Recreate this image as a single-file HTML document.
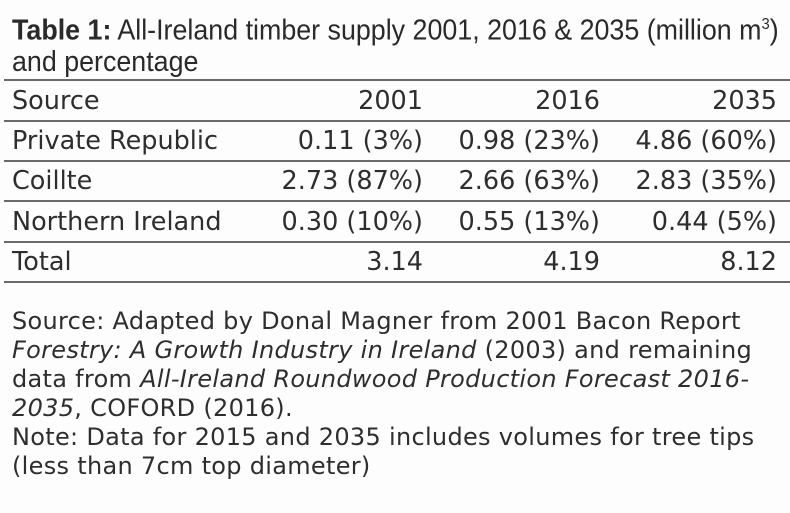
<!DOCTYPE html>
<html><head><meta charset="utf-8"><style>
body{margin:0;background:#fdfdfd;width:790px;height:513px;overflow:hidden;position:relative;font-family:"DejaVu Sans","Liberation Sans",sans-serif;color:#2e2e2e}
.t{position:absolute;white-space:nowrap}
.title{left:12px;top:9px;font-family:"Liberation Sans Narrow","Liberation Sans",sans-serif;font-size:29px;line-height:31px;color:#2a2a2a;transform-origin:0 0;transform:scaleX(0.925)}
.ln{position:absolute;left:4px;right:0;height:2px;background:#6a6a6a}
.c{position:absolute;font-size:25.5px;line-height:40px;white-space:nowrap}
.r{text-align:right}
.f{position:absolute;left:12px;font-size:24px;letter-spacing:0.3px;line-height:29px;white-space:nowrap}
</style></head><body>
<div class="t title"><b>Table 1:</b> All-Ireland timber supply 2001, 2016 &amp; 2035 (million m<sup style="font-size:16px">3</sup>)<br>and percentage</div>
<div class="ln" style="top:79px"></div>
<div class="ln" style="top:120px"></div>
<div class="ln" style="top:160px"></div>
<div class="ln" style="top:200px"></div>
<div class="ln" style="top:241px"></div>
<div class="ln" style="top:281px"></div>

<div class="c" style="left:12px;top:81px">Source</div>
<div class="c r" style="right:367px;top:81px">2001</div>
<div class="c r" style="right:190px;top:81px">2016</div>
<div class="c r" style="right:13px;top:81px">2035</div>

<div class="c" style="left:12px;top:121px">Private Republic</div>
<div class="c r" style="right:367px;top:121px">0.11 (3%)</div>
<div class="c r" style="right:190px;top:121px">0.98 (23%)</div>
<div class="c r" style="right:13px;top:121px">4.86 (60%)</div>

<div class="c" style="left:12px;top:161px">Coillte</div>
<div class="c r" style="right:367px;top:161px">2.73 (87%)</div>
<div class="c r" style="right:190px;top:161px">2.66 (63%)</div>
<div class="c r" style="right:13px;top:161px">2.83 (35%)</div>

<div class="c" style="left:12px;top:202px">Northern Ireland</div>
<div class="c r" style="right:367px;top:202px">0.30 (10%)</div>
<div class="c r" style="right:190px;top:202px">0.55 (13%)</div>
<div class="c r" style="right:13px;top:202px">0.44 (5%)</div>

<div class="c" style="left:12px;top:242px">Total</div>
<div class="c r" style="right:367px;top:242px">3.14</div>
<div class="c r" style="right:190px;top:242px">4.19</div>
<div class="c r" style="right:13px;top:242px">8.12</div>

<div class="f" style="top:307px">Source: Adapted by Donal Magner from 2001 Bacon Report<br><i>Forestry: A Growth Industry in Ireland</i> (2003) and remaining<br>data from <i>All-Ireland Roundwood Production Forecast 2016-<br>2035</i>, COFORD (2016).<br>Note: Data for 2015 and 2035 includes volumes for tree tips<br>(less than 7cm top diameter)</div>
</body></html>
